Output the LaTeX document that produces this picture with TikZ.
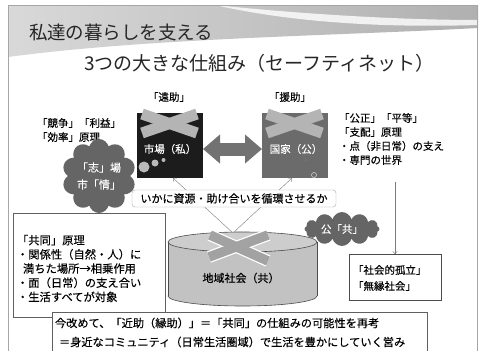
\documentclass[tikz,border=0pt]{standalone}
\usepackage{fontspec}
\setmainfont{Noto Sans CJK JP}
\newfontfamily\bodyfont[FakeBold=0.25]{Noto Sans CJK JP}
\usetikzlibrary{shapes.symbols,arrows.meta,calc}
\definecolor{boxdark}{HTML}{1C1C1C}
\definecolor{boxgray}{HTML}{6B6B6B}
\definecolor{xgray}{HTML}{B4B4B4}
\definecolor{cloudgray}{HTML}{656565}
\definecolor{arrowgray}{HTML}{727272}
\definecolor{cylside}{HTML}{C2C2C2}
\definecolor{cyltop}{HTML}{CDCDCD}
\definecolor{linegray}{HTML}{7A7A7A}
\begin{document}
\begin{tikzpicture}[x=1pt,y=-1pt,
  every node/.style={inner sep=0pt, outer sep=0pt},
  body/.style={font=\bodyfont\fontsize{10.5}{14}\selectfont, align=left, anchor=west},
  boxlabel/.style={font=\bodyfont\fontsize{10.5}{13}\selectfont, text=white},
  xbar/.style={line width=11pt, draw=xgray},
  cloudnode/.style={cloud, cloud puffs=11, fill=cloudgray, text=white, align=center},
  thinarrow/.style={draw=linegray, line width=0.4pt, -{To[length=3pt,width=5pt]}},
  framebox/.style={draw=gray!75!black, line width=0.6pt, fill=white}]
\useasboundingbox (0,0) rectangle (480,351);
\fill[white] (0,0) rectangle (480,351);
% title band
\shade[left color=gray!30, right color=gray!62] (8,5) -- (478,5) -- (478,28) .. controls (330,36) and (150,38) .. (8,57) -- cycle;
\fill[white, opacity=0.8] (215,5) .. controls (300,14) and (400,20) .. (478,20) -- (478,25) .. controls (380,28) and (290,22) .. (215,5) -- cycle;
\draw[gray!70, line width=0.7pt] (8.5,5) rectangle (477,400);
\node[anchor=west, font=\fontsize{18.5}{20}\selectfont, text=black!85] (t1) at (29,32) {私達の暮らしを支える};
\node[anchor=west, font=\fontsize{19}{20}\selectfont, text=black!85] (t2) at (84,63) {3つの大きな仕組み（セーフティネット）};

% labels above boxes
\node[font=\bodyfont\fontsize{10.5}{13}\selectfont] (enjo) at (169,97) {「遠助」};
\node[font=\bodyfont\fontsize{10.5}{13}\selectfont] (enjo2) at (290,97) {「援助」};

% left principle
\node[body] (kyoso) at (37,130) {「競争」「利益」\\「効率」原理};

% right principle
\node[body] (pub) at (339,139) {「公正」「平等」\\「支配」原理\\・点（非日常）の支え\\・専門の世界};
\coordinate (vtop) at (395,182);

% lines from community to the two boxes (drawn first)
\coordinate (cyltopc) at (233,233);

% boxes
\node[fill=boxdark, minimum width=66pt, minimum height=65pt] (mkt) at (170,145.5) {};
\node[fill=boxgray, minimum width=66pt, minimum height=65pt] (gov) at (295,145.5) {};
\draw[thinarrow] (cyltopc) -- ($(mkt.south)+(3,0)$);
\draw[thinarrow] (cyltopc) -- ($(gov.south)+(-3,0)$);

% X on boxes
\draw[xbar] (142,114) -- (197,133);
\draw[xbar] (142,133) -- (197,114);
\draw[xbar] (267,114) -- (322,133);
\draw[xbar] (267,133) -- (322,114);
\node[boxlabel] (mktl) at (170,149) {市場（私）};
\node[boxlabel] (govl) at (296,149) {国家（公）};

% double arrow
\draw[arrowgray, line width=13pt, {Triangle[width=28pt,length=17pt]}-{Triangle[width=28pt,length=17pt]}] ($(mkt.east)+(0,3.5)$) -- ($(gov.west)+(0,3.5)$);

% bubbles
\fill[gray!55] (144,167) circle (5.5);
\fill[gray!55] (155,163) circle (3.5);
\fill[gray!55] (163.5,160) circle (2);
\fill[black!55] (306,160) circle (1.5);
\draw[gray!35, line width=0.6pt] (314,175) circle (2.5);

% cloud left
\node[cloudnode, cloud puffs=10, minimum width=56pt, minimum height=46pt, font=\bodyfont\fontsize{11}{17}\selectfont] (shi) at (99,176) {「志」場\\市「情」};

% circulation rounded box
\node[draw=gray!70, fill=white, rounded corners=3pt, minimum width=204pt, minimum height=17pt, font=\bodyfont\fontsize{11}{13}\selectfont] (circ) at (234,198.5) {いかに資源・助け合いを循環させるか};

% cylinder
\filldraw[fill=cylside, draw=black!70, line width=0.6pt] (242.5,296) ellipse (74.5pt and 10pt);
\fill[cylside] (168,242) rectangle (317,296);
\draw[black!70, line width=0.6pt] (168,242) -- (168,296) (317,242) -- (317,296);
\filldraw[fill=cyltop, draw=black!70, line width=0.6pt] (242.5,242) ellipse (74.5pt and 10pt);
\draw[white, line width=12pt] (210,235) -- (268,261);
\draw[white, line width=12pt] (268,235) -- (209,257);
\draw[xgray!90!black, line width=9.5pt] (210,235) -- (268,261);
\draw[xgray!90!black, line width=9.5pt] (268,235) -- (209,257);
\node[font=\bodyfont\fontsize{11}{13}\selectfont] (cyl) at (241,278) {地域社会（共）};

% cloud right
\node[cloudnode, cloud puffs=12, aspect=2.6, minimum width=75pt, minimum height=28pt, font=\bodyfont\fontsize{10.5}{13}\selectfont] (kou) at (342,229) {公「共」};

% isolation box
\node[draw=black!70, line width=0.6pt, minimum width=92pt, minimum height=46pt] (iso) at (395,277) {};
\node[body, font=\bodyfont\fontsize{10.5}{16}\selectfont] (isot) at (353,278) {「社会的孤立」\\「無縁社会」};
\draw[thinarrow] (vtop) -- (iso.north);

% left box
\node[framebox, minimum width=152pt, minimum height=104pt] (kyodo) at (89,265) {};
\node[body, font=\bodyfont\fontsize{11.3}{14.2}\selectfont] (kyodot) at (17,268.5) {「共同」原理\\・関係性（自然・人）に\\\hspace{6pt}満ちた場所→相乗作用\\・面（日常）の支え合い\\・生活すべてが対象};

% bottom box
\node[framebox, anchor=north west, minimum width=375pt, minimum height=60pt] (bottom) at (52,312) {};
\node[body, font=\bodyfont\fontsize{11.2}{19}\selectfont] (bott) at (55,332.5) {今改めて、「近助（縁助）」＝「共同」の仕組みの可能性を再考\\\hspace{4pt}＝身近なコミュニティ（日常生活圏域）で生活を豊かにしていく営み};
\end{tikzpicture}
\end{document}
